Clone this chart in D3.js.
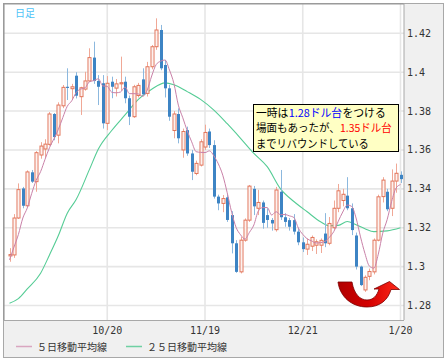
<!DOCTYPE html>
<html><head><meta charset="utf-8">
<script src="https://cdn.jsdelivr.net/npm/d3@7"></script>
<style>body{margin:0;background:#fff} svg{display:block}</style>
</head><body>
<svg id="c" width="447" height="364"></svg>
<script>
// ---- data (EUR/USD daily) ----
const opens  = [1.3055,1.3060,1.3250,1.3402,1.3313,1.3485,1.3437,1.3574,1.3605,1.3629,1.3785,1.3676,1.3827,1.3925,1.3915,1.3982,1.3874,1.3913,1.3955,1.4075,1.3955,1.3943,1.3737,1.3951,1.3918,1.3940,1.3951,1.3866,1.3771,1.3880,1.3963,1.3891,1.4028,1.4131,1.4217,1.4037,1.3917,1.3700,1.3785,1.3600,1.3702,1.3582,1.3479,1.3522,1.3615,1.3695,1.3625,1.3360,1.3325,1.3356,1.3265,1.3120,1.2973,1.3136,1.3239,1.3400,1.3300,1.3330,1.3265,1.3240,1.3190,1.3385,1.3254,1.3239,1.3239,1.3180,1.3125,1.3090,1.3105,1.3110,1.3110,1.3170,1.3120,1.3200,1.3300,1.3340,1.3365,1.3300,1.3160,1.3000,1.2880,1.2950,1.2973,1.3136,1.3360,1.3385,1.3300,1.3440,1.3472];
const highs  = [1.3095,1.3270,1.3428,1.3410,1.3495,1.3497,1.3594,1.3640,1.3655,1.3795,1.3790,1.3845,1.3934,1.4020,1.3940,1.4000,1.3925,1.4002,1.4123,1.4157,1.3985,1.3985,1.3980,1.3977,1.3965,1.4080,1.3977,1.3880,1.3935,1.3945,1.4020,1.4053,1.4140,1.4277,1.4243,1.4063,1.3935,1.3800,1.3814,1.3710,1.3720,1.3600,1.3545,1.3655,1.3730,1.3710,1.3650,1.3370,1.3368,1.3370,1.3285,1.3136,1.3153,1.3248,1.3420,1.3415,1.3395,1.3340,1.3300,1.3250,1.3410,1.3497,1.3275,1.3250,1.3270,1.3200,1.3150,1.3145,1.3160,1.3140,1.3145,1.3275,1.3255,1.3340,1.3425,1.3400,1.3460,1.3325,1.3175,1.3005,1.2955,1.2990,1.3145,1.3370,1.3460,1.3400,1.3500,1.3530,1.3490];
const lows   = [1.3025,1.3045,1.3245,1.3300,1.3305,1.3430,1.3385,1.3555,1.3560,1.3622,1.3650,1.3634,1.3815,1.3857,1.3860,1.3865,1.3780,1.3905,1.3950,1.3940,1.3831,1.3710,1.3702,1.3866,1.3875,1.3905,1.3840,1.3728,1.3765,1.3870,1.3880,1.3875,1.4015,1.4115,1.4010,1.3870,1.3750,1.3660,1.3634,1.3560,1.3570,1.3445,1.3470,1.3515,1.3600,1.3610,1.3350,1.3290,1.3280,1.3230,1.3068,1.2968,1.2965,1.3128,1.3230,1.3265,1.3265,1.3195,1.3200,1.3185,1.3180,1.3240,1.3205,1.3185,1.3165,1.3110,1.3075,1.3060,1.3080,1.3065,1.3070,1.3100,1.3110,1.3190,1.3280,1.3310,1.3290,1.3162,1.2985,1.2900,1.2870,1.2930,1.2960,1.3130,1.3330,1.3285,1.3260,1.3380,1.3430];
const closes = [1.3062,1.3250,1.3396,1.3313,1.3487,1.3437,1.3586,1.3620,1.3630,1.3785,1.3666,1.3831,1.3922,1.3919,1.3925,1.3879,1.3920,1.3955,1.4075,1.3955,1.3925,1.3737,1.3943,1.3925,1.3940,1.3946,1.3866,1.3771,1.3925,1.3932,1.3886,1.4028,1.4131,1.4217,1.4020,1.3917,1.3771,1.3785,1.3660,1.3695,1.3582,1.3488,1.3531,1.3642,1.3690,1.3625,1.3360,1.3325,1.3350,1.3240,1.3120,1.2973,1.3136,1.3239,1.3414,1.3310,1.3330,1.3225,1.3240,1.3222,1.3394,1.3254,1.3230,1.3205,1.3180,1.3125,1.3090,1.3115,1.3150,1.3128,1.3135,1.3120,1.3222,1.3300,1.3390,1.3372,1.3300,1.3188,1.3000,1.2905,1.2945,1.2975,1.3136,1.3359,1.3445,1.3295,1.3440,1.3480,1.3450];
// 5-day MA for the first four days (earlier closes are off the chart)
const ma5Lead = [1.3035,1.3100,1.3165,1.3250];
// 25-day MA at these candle indices
const ma25Index  = [0,2,4,7,9,11,13,15,18,20,23,26,29,32,35,37,40,43,46,49,52,55,58,61,64,67,70,72,74,76,78,80,82,85,88];
const ma25Values = [1.2812,1.2835,1.2885,1.2966,1.3060,1.3160,1.3275,1.3345,1.3500,1.3605,1.3700,1.3780,1.3860,1.3912,1.3945,1.3935,1.3900,1.3860,1.3805,1.3735,1.3660,1.3582,1.3514,1.3400,1.3335,1.3282,1.3231,1.3210,1.3212,1.3232,1.3215,1.3195,1.3180,1.3184,1.3200];
const xTickIndex  = [22,44,66,88];
const xTickLabels = ["10/20","11/19","12/21","1/20"];
const yTicks      = [1.28,1.30,1.32,1.34,1.36,1.38,1.40,1.42];
const yTickLabels = ["1.28","1.3","1.32","1.34","1.36","1.38","1.4","1.42"];
const legendLabels = ["５日移動平均線","２５日移動平均線"];
const periodLabel = "日足";
const noteLines = [
  [["一時は","#000"],["1.28ドル台","#0000ff"],["をつける","#000"]],
  [["場面もあったが、","#000"],["1.35ドル台","#ff0000"]],
  [["までリバウンドしている","#000"]]
];
const noteWidths = [130,136,113];

// ---- layout ----
const P={l:3.5,t:3.5,r:404,b:320};
const svg=d3.select("#c");
const x=d3.scaleLinear().domain([0,88]).range([9.5,400.5]);
const y=d3.scaleLinear().domain([1.28,1.42]).range([305.5,33.3]);
const n=closes.length;
const idx=d3.range(n);

// frame
svg.append("rect").attr("x",3.5).attr("y",3.5).attr("width",440).attr("height",354)
  .attr("fill","#f0f0f0").attr("stroke","#a8a8a8");
svg.append("rect").attr("x",P.l).attr("y",P.t).attr("width",P.r-P.l).attr("height",P.b-P.t)
  .attr("fill","#fff");

// grid
const g=svg.append("g");
g.selectAll("line.h").data(yTicks).join("line").attr("class","h")
  .attr("x1",P.l).attr("x2",P.r).attr("y1",d=>y(d)).attr("y2",d=>y(d))
  .attr("stroke","#e6e6e6").attr("stroke-width",1.6);
g.selectAll("line.v").data(xTickIndex).join("line").attr("class","v")
  .attr("x1",d=>x(d)).attr("x2",d=>x(d)).attr("y1",P.t).attr("y2",P.b)
  .attr("stroke","#e6e6e6").attr("stroke-width",1.6);

// borders
svg.append("line").attr("x1",3).attr("x2",P.r).attr("y1",3.8).attr("y2",3.8).attr("stroke","#9a9a9a").attr("stroke-width",1.6);
svg.append("line").attr("x1",3.8).attr("x2",3.8).attr("y1",3).attr("y2",P.b).attr("stroke","#9a9a9a").attr("stroke-width",1.6);
svg.append("line").attr("x1",P.r).attr("x2",P.r).attr("y1",3).attr("y2",P.b).attr("stroke","#a8a8a8");
svg.append("line").attr("x1",3).attr("x2",P.r).attr("y1",P.b+0.5).attr("y2",P.b+0.5).attr("stroke","#a8a8a8");

// clip
svg.append("clipPath").attr("id","clip").append("rect")
  .attr("x",P.l+1).attr("y",P.t+1).attr("width",P.r-P.l-1.5).attr("height",P.b-P.t-1);
const plot=svg.append("g").attr("clip-path","url(#clip)");

// period label
svg.append("text").attr("x",15).attr("y",17).text(periodLabel)
  .attr("font-family","Noto Sans CJK JP").attr("font-size",10).attr("fill","#4fc3f7");

// MA25
const ma25Pts=ma25Index.map((i,k)=>[i,ma25Values[k]]);
plot.append("path").datum(ma25Pts)
  .attr("d",d3.line().x(d=>x(d[0])).y(d=>y(d[1])).curve(d3.curveMonotoneX))
  .attr("fill","none").attr("stroke","#55cc95").attr("stroke-width",1.1);

// candles
const up=i=>closes[i]>=opens[i];
const cg=plot.append("g");
cg.selectAll("line.w").data(idx).join("line").attr("class","w")
  .attr("x1",i=>Math.round(x(i))+0.5).attr("x2",i=>Math.round(x(i))+0.5)
  .attr("y1",i=>y(highs[i])).attr("y2",i=>y(lows[i]))
  .attr("stroke",i=>up(i)?"#f0a896":"#8cb8de").attr("stroke-width",1);
cg.selectAll("rect.b").data(idx).join("rect").attr("class","b")
  .attr("x",i=>Math.round(x(i))-1)
  .attr("y",i=>y(Math.max(opens[i],closes[i])))
  .attr("width",3)
  .attr("height",i=>Math.max(1,y(Math.min(opens[i],closes[i]))-y(Math.max(opens[i],closes[i]))))
  .attr("fill",i=>up(i)?"#fff":"#3d84c4")
  .attr("fill-opacity",i=>up(i)?0.85:1)
  .attr("stroke",i=>up(i)?"#e2755a":"none").attr("stroke-width",1);

// MA5
const ma5=idx.map(i=> i<4? ma5Lead[i] : d3.mean(closes.slice(i-4,i+1)));
plot.append("path").datum(idx)
  .attr("d",d3.line().x(i=>x(i)).y(i=>y(ma5[i])).curve(d3.curveMonotoneX))
  .attr("fill","none").attr("stroke","#c981a8").attr("stroke-width",1);

// annotation box
svg.append("rect").attr("x",253.5).attr("y",104.5).attr("width",145).attr("height",47)
  .attr("fill","#ffffc4").attr("stroke","#000").attr("stroke-width",1);
const nt=svg.append("g").attr("font-family","Noto Sans CJK JP").attr("font-size",11);
noteLines.forEach((parts,k)=>{
  const yy=116.5+k*15.5;
  const els=parts.map(p=>nt.append("text").attr("y",yy).text(p[0]).attr("fill",p[1]));
  const lens=els.map(e=>e.node().getComputedTextLength());
  const s=noteWidths[k]/d3.sum(lens);
  let cx=256;
  els.forEach((e,j)=>{
    const L=lens[j]*s;
    e.attr("x",cx).attr("textLength",L-0.3).attr("lengthAdjust","spacingAndGlyphs");
    cx+=L;
  });
});

// red arrow
const defs=svg.append("defs");
const gr=defs.append("linearGradient").attr("id","ag").attr("x1","0").attr("y1","0").attr("x2","1").attr("y2","0");
gr.append("stop").attr("offset","0").attr("stop-color","#b00000");
gr.append("stop").attr("offset","0.5").attr("stop-color","#d40000");
gr.append("stop").attr("offset","1").attr("stop-color","#ff2a1a");
svg.append("path")
  .attr("d","M338,282 L352,282 C354,294 360,300 367,300 C373,300 377,296 379,289 L374,289 L389.5,281.5 L399.5,289.5 L391,289.5 C388,300 380,307 367,307 C352,307 340,297 338,282 Z")
  .attr("fill","url(#ag)").attr("stroke","#7a0000").attr("stroke-width",0.8);

// y labels
svg.append("g").selectAll("text").data(yTicks).join("text")
  .attr("x",407).attr("y",d=>y(d)+3.5).text((d,k)=>yTickLabels[k])
  .attr("font-family","DejaVu Sans Mono").attr("font-size",10).attr("fill","#333");
// x labels
svg.append("g").selectAll("text").data(xTickIndex).join("text")
  .attr("x",d=>x(d)).attr("y",334).attr("text-anchor","middle").text((d,k)=>xTickLabels[k])
  .attr("font-family","DejaVu Sans Mono").attr("font-size",10).attr("fill","#333");

// legend
const lg=svg.append("g");
const legendColors=["#d9a6c0","#6fd0a3"];
const legendX=[16,126];
legendLabels.forEach((lab,k)=>{
  lg.append("line").attr("x1",legendX[k]).attr("x2",legendX[k]+16).attr("y1",346.5).attr("y2",346.5)
    .attr("stroke",legendColors[k]).attr("stroke-width",1.5);
  lg.append("text").attr("x",legendX[k]+21).attr("y",350.5).text(lab)
    .attr("font-family","Noto Sans CJK JP").attr("font-size",10).attr("fill","#333");
});
</script>
</body></html>
